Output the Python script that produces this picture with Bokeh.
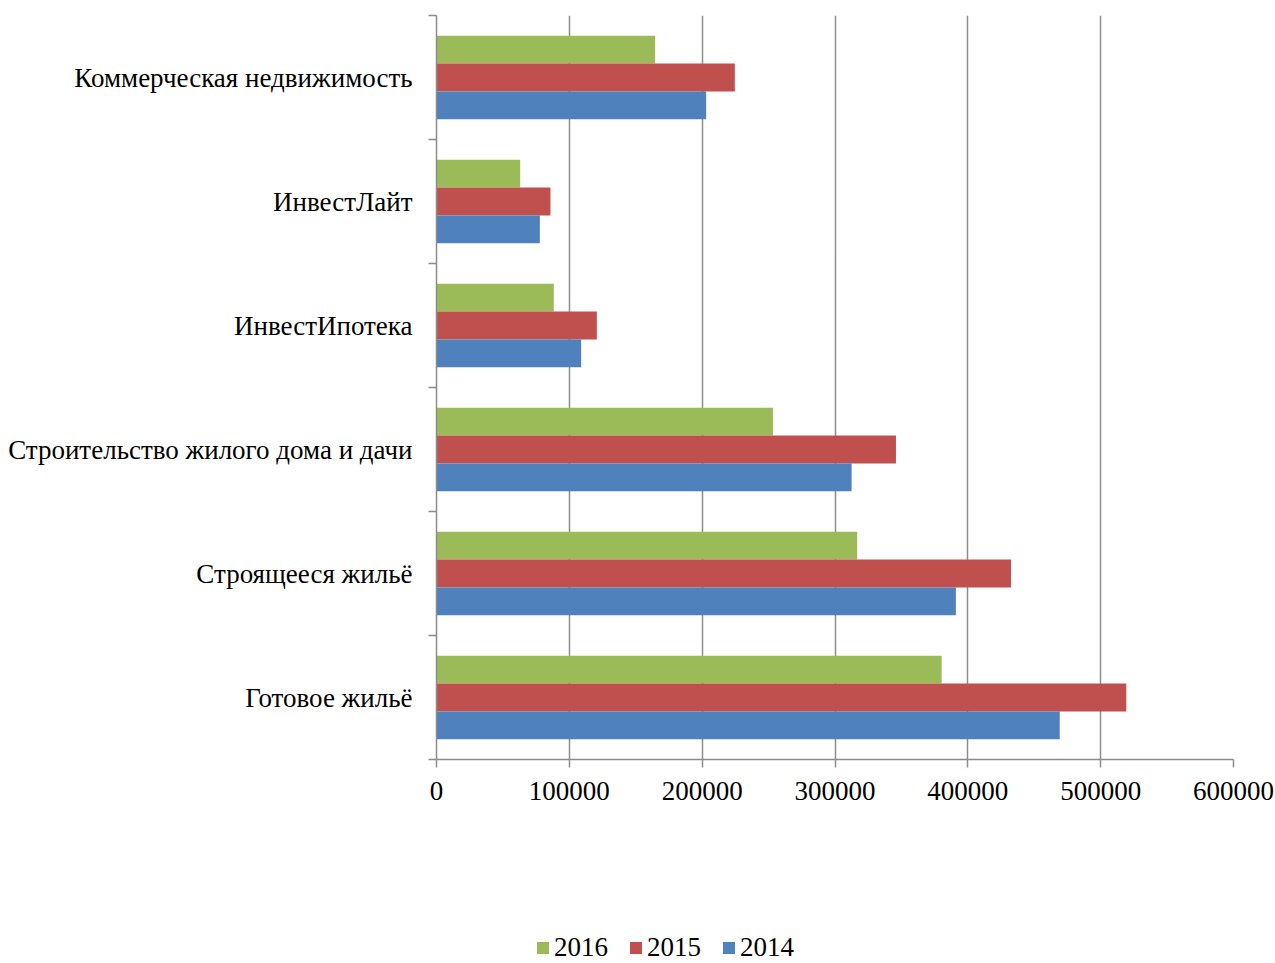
from bokeh.plotting import figure
from bokeh.layouts import column
from bokeh.models import Range1d, FixedTicker, Legend, LegendItem, ColumnDataSource
from bokeh.embed import file_html
from bokeh.resources import INLINE

categories = ["Готовое жильё", "Строящееся жильё", "Строительство жилого дома и дачи",
              "ИнвестИпотека", "ИнвестЛайт", "Коммерческая недвижимость"]
years = ["2016", "2015", "2014"]
values_2016 = [380300, 316700, 253300, 88300, 63000, 164600]
values_2015 = [519300, 432500, 345900, 120700, 85800, 224600]
values_2014 = [469200, 391000, 312500, 108900, 77800, 203000]
colors = ["#9BBB59", "#C0504D", "#4F81BD"]
x_ticks = [0, 100000, 200000, 300000, 400000, 500000, 600000]

FONT = "Liberation Serif"
FS = "27px"
MAIN_H = 913
LEG_H = 963 - MAIN_H

n = len(categories)
p = figure(width=1275, height=MAIN_H, output_backend="svg", toolbar_location=None,
           x_range=Range1d(0, 600000), y_range=Range1d(0, n),
           min_border_left=436, min_border_right=42, min_border_top=15,
           min_border_bottom=MAIN_H - 759)
p.outline_line_color = None
p.background_fill_color = "white"
p.border_fill_color = "white"

bar_h = 0.2245
offsets = [bar_h, 0.0, -bar_h]
series = [values_2016, values_2015, values_2014]
for vals, off, col in zip(series, offsets, colors):
    src = ColumnDataSource(dict(y=[i + 0.5 + off for i in range(n)], right=vals))
    p.hbar(y="y", left=0, right="right", height=bar_h, source=src,
           fill_color=col, line_color=None)

# x axis
p.xaxis.ticker = FixedTicker(ticks=x_ticks)
p.xaxis.major_label_overrides = {t: str(t) for t in x_ticks}
p.xaxis.axis_line_color = "#8C8C8C"
p.xaxis.axis_line_width = 1.5
p.xaxis.major_tick_line_color = "#8C8C8C"
p.xaxis.major_tick_line_width = 1.5
p.xaxis.major_tick_out = 8
p.xaxis.major_tick_in = 0
p.xaxis.minor_tick_line_color = None
p.xaxis.major_label_text_font = FONT
p.xaxis.major_label_text_font_size = FS
p.xaxis.major_label_text_color = "black"
p.xaxis.major_label_standoff = 14

# y axis
p.yaxis.ticker = FixedTicker(ticks=[i + 0.5 for i in range(n)],
                             minor_ticks=list(range(n + 1)))
p.yaxis.major_label_overrides = {i + 0.5: c for i, c in enumerate(categories)}
p.yaxis.axis_line_color = "#8C8C8C"
p.yaxis.axis_line_width = 1.5
p.yaxis.major_tick_line_color = None
p.yaxis.minor_tick_line_color = "#8C8C8C"
p.yaxis.minor_tick_line_width = 1.5
p.yaxis.minor_tick_out = 8
p.yaxis.minor_tick_in = 0
p.yaxis.major_label_text_font = FONT
p.yaxis.major_label_text_font_size = FS
p.yaxis.major_label_text_color = "black"
p.yaxis.major_label_standoff = 16

p.ygrid.grid_line_color = None
p.xgrid.grid_line_color = "#8C8C8C"
p.xgrid.grid_line_width = 1.5

# legend in its own strip below the chart
lf = figure(width=1275, height=LEG_H, output_backend="svg", toolbar_location=None,
            x_range=Range1d(0, 1), y_range=Range1d(0, 1),
            min_border=0, min_border_left=0, min_border_right=0,
            min_border_top=0, min_border_bottom=0)
lf.axis.visible = False
lf.grid.visible = False
lf.outline_line_color = None
leg_renderers = []
for col in colors:
    # swatch-only renderers, drawn off the visible range of this strip
    r = lf.hbar(y=[-10], left=[0], right=[0], height=0.1, fill_color=col, line_color=None)
    leg_renderers.append(r)
legend = Legend(items=[LegendItem(label=y, renderers=[r]) for y, r in zip(years, leg_renderers)],
                location=(99, 0), orientation="horizontal",
                label_text_font=FONT, label_text_font_size=FS, label_text_color="black",
                glyph_width=15, glyph_height=15, label_standoff=4, spacing=20,
                padding=0, margin=0, border_line_color=None, background_fill_alpha=0)
lf.add_layout(legend, "center")

open("out.html", "w").write(file_html(column(p, lf, spacing=0), INLINE))
